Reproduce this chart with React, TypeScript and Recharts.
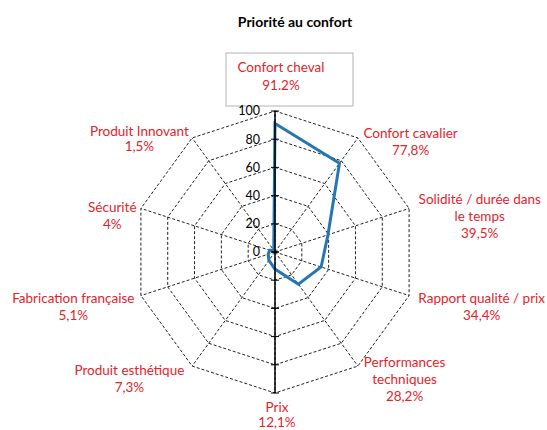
import { PolarAngleAxis, PolarGrid, PolarRadiusAxis, Radar, RadarChart } from 'recharts';

const categories = [
  'Confort cheval',
  'Confort cavalier',
  'Solidité / durée dans\nle temps',
  'Rapport qualité / prix',
  'Performances\ntechniques',
  'Prix',
  'Produit esthétique',
  'Fabrication française',
  'Sécurité',
  'Produit Innovant',
];
const values = [91.2, 77.8, 39.5, 34.4, 28.2, 12.1, 7.3, 5.1, 4, 1.5];
const valueLabels = ['91.2%', '77,8%', '39,5%', '34,4%', '28,2%', '12,1%', '7,3%', '5,1%', '4%', '1,5%'];
const radiusTicks = [0, 20, 40, 60, 80, 100];

const data = categories.map((name, i) => ({ name, value: values[i], label: valueLabels[i] }));

const CX = 275;
const CY = 252;

// first-line offset of each category label from its tick anchor, and line spacing
const labelOffsets: Array<[number, number, number]> = [
  [6, -36, 18],
  [48, 2, 17],
  [63, -7, 17],
  [65, 0, 17],
  [42, -10, 17],
  [2, 6, 15],
  [-58, -2, 17],
  [-60, 0, 17],
  [-21, 1, 17],
  [-48, 0, 15],
];

const RED = '#e3242b';
const FONT = 'Lato, "Liberation Sans", sans-serif';

function AngleTick(props: any) {
  const { x, y, index } = props;
  const d = data[index];
  const [dx, dy, lh] = labelOffsets[index];
  const lines = [...d.name.split('\n'), d.label];
  const tx = x + dx;
  const ty = y + dy;
  return (
    <g>
      {index === 0 && (
        <rect x={x - 49} y={y - 50} width={127} height={53} fill="none" stroke="#b3b3b3" />
      )}
      <text x={tx} y={ty} textAnchor="middle" fill={RED} fontSize={13.5} fontFamily={FONT}>
        {lines.map((l, k) => (
          <tspan key={k} x={tx} dy={k === 0 ? '0.35em' : lh}>
            {l}
          </tspan>
        ))}
      </text>
    </g>
  );
}

// value axis labels on the upper spoke; the lower spoke (Prix) mirrors the axis line and tick marks
function RadiusTick(props: any) {
  const { x, y, payload } = props;
  const my = 2 * CY - y;
  return (
    <g>
      {payload.value === 100 && <line x1={x} x2={x} y1={CY} y2={my} stroke="#000" strokeWidth={1.5} />}
      <line x1={x - 4} x2={x + 4} y1={y} y2={y} stroke="#000" />
      <line x1={x - 4} x2={x + 4} y1={my} y2={my} stroke="#000" />
      <text x={x - 15} y={y} dy="0.35em" textAnchor="end" fontSize={12.5} fontFamily={FONT} fill="#000">
        {payload.value}
      </text>
    </g>
  );
}

export default function App() {
  return (
    <div style={{ position: 'absolute', left: 0, top: 0, width: 547, height: 430, background: '#fff' }}>
      <div
        style={{
          position: 'absolute',
          left: 0,
          width: 590,
          top: 13,
          textAlign: 'center',
          fontFamily: FONT,
          fontWeight: 700,
          fontSize: 14,
          color: '#000',
        }}
      >
        Priorité au confort
      </div>
      <RadarChart
        width={547}
        height={430}
        data={data}
        cx={CX}
        cy={CY}
        outerRadius={141}
        margin={{ top: 0, right: 0, bottom: 0, left: 0 }}
      >
        <PolarGrid gridType="polygon" stroke="#222" strokeDasharray="3 2" />
        <PolarAngleAxis dataKey="name" tick={AngleTick} axisLine={false} tickLine={false} />
        <PolarRadiusAxis
          angle={90}
          domain={[0, 100]}
          ticks={radiusTicks}
          tickCount={6}
          tick={RadiusTick}
          axisLine={{ stroke: '#000', strokeWidth: 1.5 }}
          tickLine={false}
        />
        <Radar
          dataKey="value"
          stroke="#2676b4"
          strokeWidth={3}
          fill="none"
          fillOpacity={0}
          dot={false}
          isAnimationActive={false}
        />
      </RadarChart>
    </div>
  );
}
